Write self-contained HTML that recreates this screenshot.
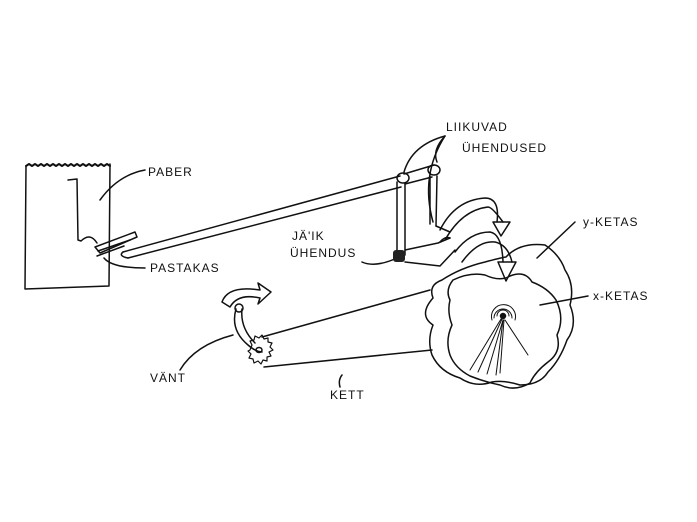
<!DOCTYPE html>
<html><head><style>
html,body{margin:0;padding:0;background:#fff;}
svg{display:block}
text{font-family:"Liberation Sans",sans-serif;font-size:12px;fill:#111;letter-spacing:1px}
</style></head><body>
<svg width="697" height="522" viewBox="0 0 697 522" xmlns="http://www.w3.org/2000/svg">
<g fill="none" stroke="#111" stroke-width="1.5" stroke-linecap="round" stroke-linejoin="round">
<path d="M26,166 L25,289 L109,286 L110,164"/>
<path d="M26,166 l3,-2 3,2 3,-2 3,2 3,-2 3,2 3,-2 3,2 3,-2 3,2 3,-2 3,2 3,-2 3,2 3,-2 3,2 3,-2 3,2 3,-2 3,2 3,-2 3,2 3,-2 3,2 3,-2 3,2 3,-2 3,2" stroke-width="2"/>
<path d="M68,180 L77,179 L78,240 L81,241 Q90,232 97,243"/>
<path d="M95,247 L135,232 L137,237 L100,253 Z"/>
<path d="M98,251 L130,240 M97,256 L124,246"/>
<path d="M123,252 L400,176 M128,258 L401,187"/>
<path d="M123,252 Q118,256 128,258"/>
<path d="M404,174 L434,165 M405,184 L432,177"/>
<ellipse cx="403" cy="178" rx="6" ry="5"/>
<ellipse cx="434" cy="170" rx="6" ry="5"/>
<path d="M397,182 L397,256 M405,183 L405,255"/>
<path d="M430,176 L430,224 M437,176 L436,226"/>
<path d="M405,250 L438,243 L450,238 M405,262 L440,266 L455,250"/>
<path d="M436,226 L450,232 M440,242 Q445,236 450,238"/>
<path d="M440,230 Q455,200 485,198 Q500,198 497,222 M445,240 Q462,210 488,207 Q492,207 503,222"/>
<path d="M493,222 L510,222 L501,236 Z"/>
<path d="M455,252 Q470,232 490,232 Q502,234 503,262 M462,262 Q478,240 495,242 Q508,245 512,262"/>
<path d="M498,262 L516,262 L506,281 Z"/>
<path d="M433,298 Q428,285 442,280 Q460,268 485,262 Q500,258 506,257 Q520,242 545,245 Q560,255 565,270 Q575,285 570,305 Q578,325 567,340 Q560,360 548,372 Q540,385 520,385 Q505,380 492,382 Q475,388 460,378 Q440,372 432,355 Q427,340 433,325 Q418,315 433,298"/>
<path d="M453,280 Q470,272 485,275 Q500,282 510,276 Q525,270 532,282 Q548,288 556,300 Q565,318 557,335 Q562,352 548,362 Q535,372 530,383 Q515,392 500,385 Q485,382 470,376 Q455,368 450,355 Q445,340 452,325 Q447,312 450,300 Q445,290 453,280"/>
<circle cx="503" cy="316" r="2.5" fill="#111"/>
<path d="M497,316 A6,6 0 1,1 509,316 M494,318 A9,9 0 1,1 512,318 M492,320 A12,12 0 1,1 515,320" stroke-width="1"/>
<path d="M501,319 L470,370 M502,319 L478,372 M503,320 L487,374 M503,320 L496,375 M504,320 L500,373 M505,320 L528,355" stroke-width="1"/>
<path d="M262,337 L430,290 M264,367 L432,350"/>
<path d="M250,350 l2,-5 -2,-4 4,-1 1,-4 4,2 3,-3 2,4 4,-1 0,4 4,1 -2,4 3,3 -4,2 2,4 -4,1 0,4 -4,-1 -2,4 -3,-3 -4,2 -1,-4 -4,-1 2,-4 -3,-3 Z" stroke-width="1.2"/>
<path d="M236,309 Q230,330 248,345 Q256,352 262,352 M242,309 Q240,328 255,343"/>
<ellipse cx="239" cy="308" rx="4" ry="4"/>
<ellipse cx="259" cy="350" rx="3" ry="2.5"/>
<path d="M222,302 Q228,285 260,290 L258,283 L271,292 L258,304 L260,298 Q238,293 230,307 Z"/>
<path d="M100,200 Q118,175 145,170"/>
<path d="M104,258 Q112,268 145,268"/>
<path d="M362,262 Q375,268 397,258"/>
<path d="M445,136 Q412,145 404,172"/>
<path d="M445,136 Q432,150 437,162"/>
<path d="M445,136 Q420,175 433,222"/>
<path d="M575,222 L537,258"/>
<path d="M588,296 L540,305"/>
<path d="M180,370 Q195,345 233,335"/>
<path d="M342,375 Q338,380 340,387"/>
</g>
<rect x="393" y="250" width="12" height="12" rx="3" fill="#222"/>
<text x="148" y="176">PABER</text>
<text x="150" y="272">PASTAKAS</text>
<text x="292" y="240">JÄ'IK</text>
<text x="290" y="257">ÜHENDUS</text>
<text x="446" y="131">LIIKUVAD</text>
<text x="462" y="152">ÜHENDUSED</text>
<text x="583" y="226">y-KETAS</text>
<text x="593" y="300">x-KETAS</text>
<text x="150" y="382">VÄNT</text>
<text x="330" y="399">KETT</text>
</svg>
</body></html>
